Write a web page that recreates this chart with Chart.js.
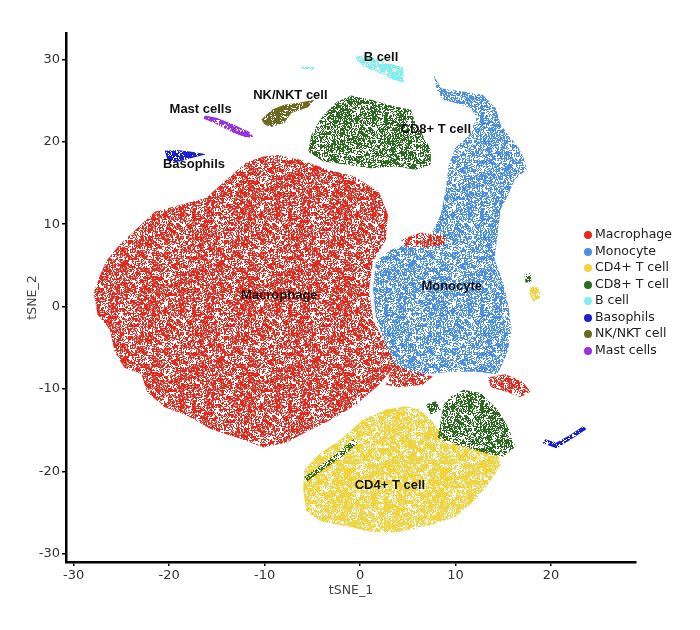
<!DOCTYPE html>
<html>
<head>
<meta charset="utf-8">
<script src="https://cdn.jsdelivr.net/npm/chart.js@4.4.1/dist/chart.umd.min.js"></script>
<style>
  body { margin: 0; background: #fff; }
  #wrap { position: relative; width: 700px; height: 630px; }
  #legend { position: absolute; left: 584px; top: 226px; font: 12.5px "DejaVu Sans", sans-serif; color: #222; }
  #legend div { height: 16.5px; line-height: 16.5px; white-space: nowrap; }
  #legend span { display: inline-block; width: 8px; height: 8px; border-radius: 50%; margin-right: 3px; vertical-align: -1px; }
</style>
</head>
<body>
<div id="wrap">
  <canvas id="chart" width="700" height="630"></canvas>
  <div id="legend"></div>
</div>
<script>
////////////
//// Data (tSNE coordinates, outlines of each cluster)

let xTicks = [-30, -20, -10, 0, 10, 20];
let yTicks = [-30, -20, -10, 0, 10, 20, 30];

let clusterNames = ['Macrophage', 'Monocyte', 'CD4+ T cell', 'CD8+ T cell', 'B cell', 'Basophils', 'NK/NKT cell', 'Mast cells'];
let clusterColors = ['#e5291d', '#4a8fe3', '#f3d33c', '#2c6a1f', '#7fefef', '#1a1fd0', '#6b6a20', '#9b30e0'];

let macrophageShape = [
	[[-8.56, 18.4], [-6.16, 17.8], [-3.34, 16.6], [-0.63, 15.8], [1.98, 13.9], [2.92, 11.2], [2.71, 8.1],
	 [1.36, 5.5], [0.94, 2.1], [1.36, -1.6], [2.71, -4.6], [3.76, -7.0], [2.0, -9.5], [-0.4, -11.9],
	 [-3.0, -13.7], [-5.6, -15.2], [-7.7, -16.5], [-10.1, -17.1], [-12.4, -16.1], [-15.6, -14.9],
	 [-18.0, -13.3], [-20.5, -12.2], [-22.3, -10.4], [-22.9, -8.2], [-24.7, -7.4], [-25.7, -5.5],
	 [-26.2, -2.8], [-27.5, -1.0], [-27.9, 1.7], [-27.2, 3.9], [-26.6, 5.5], [-25.2, 7.5], [-23.7, 9.1],
	 [-21.5, 11.5], [-18.7, 12.4], [-16.1, 13.2], [-14.0, 15.4], [-11.9, 17.5], [-10.1, 18.2]]
];
let macrophageSpots = [
	[[4.28, 8.1], [6.37, 9.0], [8.98, 8.6], [8.77, 7.5], [6.89, 7.2], [4.8, 7.3]],
	[[13.36, -8.6], [15.24, -8.2], [17.0, -9.1], [17.85, -10.3], [16.8, -11.0], [15.24, -10.3], [13.67, -9.8]],
	[[3.44, -7.0], [5.53, -7.9], [7.62, -8.5], [6.58, -9.5], [4.07, -9.8], [2.71, -9.5]]
];
let monocyteShape = [
	[[7.72, 28.1], [8.46, 26.5], [10.75, 26.1], [12.84, 25.7], [14.2, 24.1], [14.72, 22.1], [15.76, 20.5],
	 [16.6, 19.3], [17.22, 17.8], [17.43, 16.6], [16.18, 15.4], [15.55, 13.6], [14.72, 11.8], [14.4, 8.7],
	 [14.09, 5.7], [15.03, 2.7], [15.55, 0], [15.87, -2.8], [15.45, -5.5], [14.4, -8.2], [12.1, -7.9],
	 [9.5, -7.9], [6.9, -8.2], [4.8, -8.8], [3.76, -7.4], [2.71, -4.6], [1.67, -1.6], [1.36, 2.1],
	 [1.67, 5.5], [3.24, 6.9], [7.41, 8.7], [8.46, 11.2], [8.98, 14.2], [9.29, 17.2], [10.0, 19.3],
	 [11.4, 20.8], [12.2, 22.9], [11.6, 24.1], [10.0, 24.7], [8.66, 25.1], [8.04, 26.3]]
];
let cd4Shape = [
	[[-5.85, -19.8], [-4.28, -17.9], [-1.98, -16.1], [0.31, -13.7], [2.71, -12.5], [4.8, -12.1], [6.16, -12.5],
	 [7.41, -13.7], [8.46, -15.3], [10.0, -16.7], [12.6, -17.3], [14.4, -17.9], [14.72, -19.2], [13.67, -21.2],
	 [12.1, -23.4], [10.0, -25.5], [6.89, -26.7], [3.97, -27.4], [1.36, -27.4], [-1.25, -26.7], [-4.07, -26.1],
	 [-5.64, -24.8], [-5.95, -22.2]],
	[[17.85, 2.4], [18.7, 2.3], [18.9, 1.1], [18.16, 0.6], [17.75, 1.5]]
];
let cd8Shape = [
	[[-5.43, 18.8], [-5.11, 20.8], [-4.07, 22.9], [-2.51, 24.8], [-0.94, 25.6], [1.15, 25.1], [3.24, 24.4],
	 [5.32, 23.9], [5.85, 22.1], [6.89, 20.2], [7.41, 19.0], [7.41, 17.2], [5.85, 16.6], [3.76, 17.0],
	 [1.15, 16.8], [-1.46, 17.2], [-3.86, 17.6]],
	[[9.5, -10.9], [10.86, -10.1], [12.63, -10.5], [14.4, -12.5], [15.55, -14.7], [16.28, -17.0], [15.03, -18.2],
	 [13.36, -17.9], [11.27, -17.1], [9.19, -16.5], [8.14, -15.9], [8.46, -13.7], [8.77, -11.9]],
	[[-5.85, -20.7], [-4.07, -19.2], [-2.51, -17.9], [-0.73, -16.1], [-0.21, -16.6], [-1.98, -18.3], [-3.86, -19.8], [-5.53, -21.2]],
	[[6.89, -11.9], [7.93, -11.5], [8.46, -12.5], [7.41, -13.1]],
	[[17.2, 3.9], [17.85, 4.1], [17.95, 3.0], [17.33, 2.9]]
];
let bCellShape = [
	[[-0.63, 30.3], [0.42, 30.5], [2.5, 29.7], [4.49, 29.0], [4.59, 27.2], [3.55, 27.5], [1.88, 28.4], [0.42, 29.1]],
	[[-6.16, 29.1], [-4.8, 29.1], [-4.9, 28.7], [-6.16, 28.9]]
];
let basophilShape = [
	[[-20.46, 18.9], [-19.2, 19.0], [-17.64, 18.8], [-16.08, 18.5], [-17.43, 18.1], [-18.9, 17.6], [-20.15, 17.7]],
	[[19.1, -16.6], [20.56, -17.2], [22.0, -16.2], [23.7, -14.9], [23.38, -14.5], [22.0, -15.6], [20.56, -16.5], [19.4, -16.1]]
];
let nkShape = [
	[[-10.33, 22.7], [-9.29, 23.9], [-7.93, 24.5], [-6.16, 24.8], [-4.8, 25.1], [-5.43, 24.2], [-7.2, 23.5],
	 [-7.93, 22.3], [-9.29, 21.8], [-10.0, 22.1]]
];
let mastShape = [
	[[-16.28, 23.2], [-15.03, 22.9], [-13.26, 22.1], [-11.59, 21.2], [-11.17, 20.6], [-11.9, 20.5],
	 [-13.47, 21.2], [-15.34, 22.3], [-16.39, 22.8]]
];

let labelTexts = ['B cell', 'NK/NKT cell', 'Mast cells', 'CD8+ T cell', 'Basophils', 'Macrophage', 'Monocyte', 'CD4+ T cell'];
let labelX = [2.19, -7.3, -16.7, 7.93, -17.4, -8.46, 9.6, 3.13];
let labelY = [30.2, 25.6, 23.9, 21.5, 17.2, 1.3, 2.4, -21.7];

// draw order: bottom to top, [shapes, colour index, speckle density]
let layers = [
	[macrophageShape, 0, 0.62],
	[monocyteShape, 1, 0.6],
	[macrophageSpots, 0, 0.6],
	[cd4Shape, 2, 0.7],
	[cd8Shape, 3, 0.6],
	[bCellShape, 4, 0.8],
	[basophilShape, 5, 0.9],
	[nkShape, 6, 0.85],
	[mastShape, 7, 0.9]
];

////////////
//// Helpers

function toPoints(shapes) {
	let pts = [];
	shapes.forEach((shape, k) => {
		if (k > 0) pts.push({x: null, y: null});
		shape.forEach(p => pts.push({x: p[0], y: p[1]}));
	});
	return pts;
}

function hash(i, j) {
	return Math.abs(Math.sin(i * 12.9898 + j * 78.233) * 43758.5453) % 1;
}

// speckled, slightly clumpy fill, like a dense cloud of single cells
function speckle(ctx, color, density) {
	let size = 96;
	let c = document.createElement('canvas');
	c.width = size; c.height = size;
	let g = c.getContext('2d');
	g.fillStyle = color;
	for (let j = 0; j < size; j++) {
		for (let i = 0; i < size; i++) {
			let coarse = hash(Math.floor(i / 4) + 311, Math.floor(j / 4) + 127);
			let d = density * (0.55 + 0.9 * coarse);
			if (hash(i, j) < d) g.fillRect(i, j, 1, 1);
		}
	}
	return ctx.createPattern(c, 'repeat');
}

let clusterPlugin = {
	id: 'clusters',
	beforeDatasetsDraw(chart) {
		let ctx = chart.ctx;
		let area = chart.chartArea;
		ctx.save();
		ctx.beginPath();
		ctx.rect(area.left, area.top, area.right - area.left, area.bottom - area.top);
		ctx.clip();
		chart.data.datasets.forEach((ds, i) => {
			let meta = chart.getDatasetMeta(i);
			ctx.fillStyle = speckle(ctx, ds.backgroundColor, ds.density);
			ctx.beginPath();
			let open = false;
			meta.data.forEach(pt => {
				if (pt.skip || !isFinite(pt.x) || !isFinite(pt.y)) {
					if (open) ctx.closePath();
					open = false;
					return;
				}
				if (!open) { ctx.moveTo(pt.x, pt.y); open = true; }
				else ctx.lineTo(pt.x, pt.y);
			});
			if (open) ctx.closePath();
			ctx.fill();
		});
		ctx.restore();
	},
	afterDatasetsDraw(chart) {
		let ctx = chart.ctx;
		let xs = chart.scales.x, ys = chart.scales.y;
		ctx.save();
		ctx.font = 'bold 13px "Liberation Sans", Arial, sans-serif';
		ctx.fillStyle = '#111';
		ctx.textAlign = 'center';
		ctx.textBaseline = 'middle';
		labelTexts.forEach((t, i) => {
			ctx.fillText(t, xs.getPixelForValue(labelX[i]), ys.getPixelForValue(labelY[i]));
		});
		ctx.restore();
	}
};

////////////
//// Chart

let datasets = layers.map(l => ({
	label: clusterNames[l[1]],
	data: toPoints(l[0]),
	backgroundColor: clusterColors[l[1]],
	density: l[2],
	pointRadius: 0,
	pointHoverRadius: 0,
	showLine: false
}));

let tickFont = {family: '"DejaVu Sans", Verdana, sans-serif', size: 13};
let titleFont = {family: '"DejaVu Sans", Verdana, sans-serif', size: 12.5};

var ctx = document.getElementById('chart').getContext('2d');
let chart = new Chart(ctx, {
	type: 'scatter',
	data: {datasets: datasets},
	plugins: [clusterPlugin],
	options: {
		responsive: false,
		animation: false,
		events: [],
		layout: {padding: {left: 21, right: 64, top: 33, bottom: 28}},
		plugins: {legend: {display: false}, tooltip: {enabled: false}},
		scales: {
			x: {
				type: 'linear',
				min: -30.8,
				max: 28.9,
				afterBuildTicks: s => { s.ticks = xTicks.map(v => ({value: v})); },
				afterFit: s => { s.height = 40; },
				ticks: {color: '#333', font: tickFont, padding: 2, maxRotation: 0},
				grid: {drawOnChartArea: false, drawTicks: true, tickLength: 4, color: '#000', lineWidth: 1.5},
				border: {display: true, color: '#000', width: 2.5},
				title: {display: true, text: 'tSNE_1', color: '#444', font: titleFont, padding: {top: 4, bottom: 4}}
			},
			y: {
				type: 'linear',
				min: -31.0,
				max: 33.2,
				afterBuildTicks: s => { s.ticks = yTicks.map(v => ({value: v})); },
				afterFit: s => { s.width = 45; },
				ticks: {color: '#333', font: tickFont, padding: 2},
				grid: {drawOnChartArea: false, drawTicks: true, tickLength: 4, color: '#000', lineWidth: 1.5},
				border: {display: true, color: '#000', width: 2.5},
				title: {display: true, text: 'tSNE_2', color: '#444', font: titleFont, padding: {top: 4, bottom: 4}}
			}
		}
	}
});

////////////
//// Legend

let legend = document.getElementById('legend');
clusterNames.forEach((name, i) => {
	let row = document.createElement('div');
	let dot = document.createElement('span');
	dot.style.background = clusterColors[i];
	row.appendChild(dot);
	row.appendChild(document.createTextNode(name));
	legend.appendChild(row);
});
</script>
</body>
</html>
